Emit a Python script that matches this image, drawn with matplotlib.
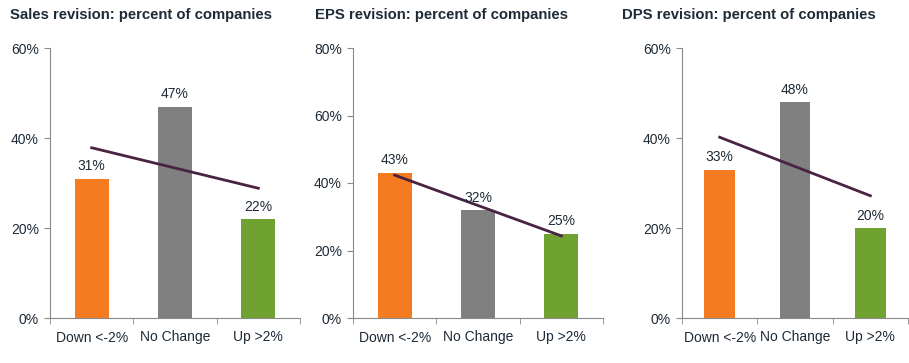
import matplotlib
matplotlib.use("Agg")
import matplotlib.pyplot as plt
import numpy as np
from matplotlib.ticker import PercentFormatter

plt.rcParams['font.family'] = ['Liberation Sans', 'DejaVu Sans']

categories = ["Down <-2%", "No Change", "Up >2%"]
titles = ["Sales revision: percent of companies",
          "EPS revision: percent of companies",
          "DPS revision: percent of companies"]
sales = [31, 47, 22]
eps = [43, 32, 25]
dps = [33, 48, 20]
ymax = [60, 80, 60]

bar_colors = ["#F47B20", "#808080", "#70A232"]
line_color = "#4A2342"
text_color = "#1E2B38"
spine_color = "#8A8A8A"

fig = plt.figure(figsize=(9.09, 3.63), dpi=100)

# axes boxes in figure pixels: left, width
boxes = [(50, 250), (353, 250), (682, 226)]
title_x = [10, 315, 622]

for i, vals in enumerate([sales, eps, dps]):
    left, width = boxes[i]
    ax = fig.add_axes([left / 909, 45 / 363, width / 909, 270 / 363])
    x = np.arange(len(categories))
    ax.bar(x, vals, width=0.41, color=bar_colors)
    for xi, v in zip(x, vals):
        ax.text(xi, v + 1.2 * ymax[i] / 60, f"{v}%", ha="center", va="bottom",
                fontsize=10, color=text_color)
    # linear trend line
    k, b = np.polyfit(x, vals, 1)
    ax.plot(x[[0, -1]], k * x[[0, -1]] + b, color=line_color, lw=2)

    ax.set_xlim(-0.5, 2.5)
    ax.set_ylim(0, ymax[i])
    ax.set_yticks(np.arange(0, ymax[i] + 1, 20))
    ax.yaxis.set_major_formatter(PercentFormatter(decimals=0))
    ax.set_xticks(x)
    ax.set_xticklabels(categories)
    ax.set_xticks([-0.5, 0.5, 1.5, 2.5], minor=True)
    ax.tick_params(axis="x", which="major", length=0, pad=9)
    ax.tick_params(axis="x", which="minor", length=4, color=spine_color)
    ax.tick_params(axis="y", length=4, color=spine_color, pad=4)
    ax.tick_params(labelsize=10, labelcolor=text_color)
    for s in ["top", "right"]:
        ax.spines[s].set_visible(False)
    for s in ["left", "bottom"]:
        ax.spines[s].set_color(spine_color)

    fig.text(title_x[i] / 909, 1 - 15 / 363, titles[i], ha="left", va="center",
             fontsize=10.7, fontweight="bold", color=text_color)

fig.savefig("out.png", dpi=100)
